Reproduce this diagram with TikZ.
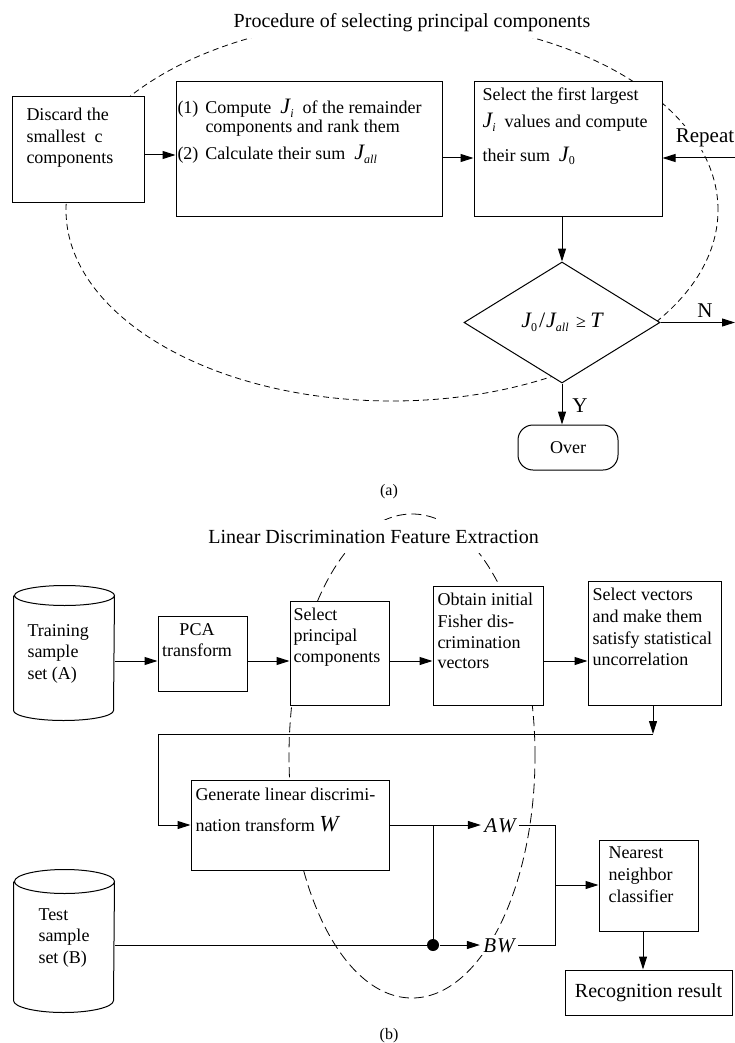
\documentclass[tikz,border=0pt]{standalone}
\usepackage{fontspec}
\setmainfont{Liberation Serif}
\usetikzlibrary{arrows.meta,shapes.geometric}
\newcommand\bigJ{{\fontsize{22}{22}\selectfont\itshape J}}
\newcommand\Jsub[1]{\bigJ\raisebox{-4pt}{\fontsize{12}{12}\selectfont #1}}
\begin{document}
\begin{tikzpicture}[x=1pt,y=-1pt,line width=1pt,
  font=\fontsize{18}{21.5}\selectfont,
  box/.style={draw,fill=white,inner sep=0pt},
  lt/.style={anchor=base west,inner sep=0pt},
  ct/.style={anchor=base,inner sep=0pt},
  arr/.style={-{Triangle[length=13pt,width=8pt]}},
  dasha/.style={dash pattern=on 6pt off 4pt,line width=0.8pt},
  dashb/.style={dash pattern=on 10pt off 5pt,line width=0.8pt},
  ttl/.style={anchor=base,fill=white,inner xsep=2pt,font=\fontsize{20}{24}\selectfont},
  lbl/.style={anchor=base,fill=white,inner sep=3pt,font=\fontsize{21}{24}\selectfont},
  subcap/.style={anchor=base,inner sep=0pt,font=\fontsize{16}{19}\selectfont},
  cyl/.style={inner sep=0pt,minimum width=100pt}
]
\useasboundingbox (0,0) rectangle (735,1043);

% ---------------- (a) ----------------
\draw[dasha] (392,210) ellipse [x radius=326pt, y radius=191pt];
\node[ttl,inner ysep=5.7pt] (ta) at (412,27.5) {Procedure of selecting principal components};

\node[box,minimum width=132pt,minimum height=105pt] (b1) at (78,149.5) {};
\node[lt] (b1a) at (26,121) {Discard the};
\node[lt] (b1b) at (26,143) {smallest~~c};
\node[lt] (b1c) at (26,164) {components};

\node[box,minimum width=266pt,minimum height=134pt] (b2) at (309,149) {};
\node[lt] (b2a) at (177,114) {(1)\hspace{7pt}Compute~ \Jsub{\itshape i}~ of the remainder};
\node[lt] (b2b) at (205,133) {components and rank them};
\node[lt] (b2c) at (177,160) {(2)\hspace{7pt}Calculate their sum~ \Jsub{\itshape all}};

\node[box,minimum width=188pt,minimum height=134pt] (b3) at (568,149) {};
\node[lt] (b3a) at (482,101) {Select the first largest};
\node[lt] (b3b) at (482,128) {\Jsub{\itshape i}~ values and compute};
\node[lt] (b3c) at (482,161) {their sum~ \Jsub{0}};

\node[diamond,draw,fill=white,inner sep=0pt,aspect=1.62,minimum width=196pt,minimum height=121pt] (dia) at (562,322.5)
  {\Jsub{0}\kern2pt{\fontsize{22}{22}\selectfont /}\kern1pt\Jsub{\itshape all}\ \,≥\ {\fontsize{22}{22}\selectfont\itshape T}};

\node[draw,fill=white,rounded corners=15pt,minimum width=100pt,minimum height=45pt,inner sep=0pt] (over) at (568,447.5) {Over};

\node[lbl] (rep) at (705,142.7) {Repeat};
\node[lbl] (nlab) at (705,317) {N};
\node[lbl] (ylab) at (580,412) {Y};
\coordinate (repR) at (735,158);
\coordinate (nR) at (735,322.5);

\draw[arr] (b1.east |- 0,155) -- (b2.west |- 0,155);
\draw[arr] (b2.east |- 0,158) -- (b3.west |- 0,158);
\draw[arr] (repR) -- (b3.east |- repR);
\draw[arr] (b3.south -| dia.north) -- (dia.north);
\draw[arr] (dia.east) -- (nR);
\draw[arr] (dia.south) -- (dia.south |- over.north);

\node[subcap] (capa) at (389,495) {(a)};

% ---------------- (b) ----------------
\draw[dashb] (412,756) ellipse [x radius=123pt, y radius=242pt];
\node[ttl,inner ysep=10pt] (tb) at (373.5,543) {Linear Discrimination Feature Extraction};

% training cylinder
\node[cyl,minimum height=114pt] (cylA) at (64,653) {};
\draw[fill=white] (cylA.north west) -- (cylA.south west)
  arc[start angle=180,end angle=360,x radius=50pt,y radius=10pt] -- (cylA.north east)
  arc[start angle=0,end angle=180,x radius=50pt,y radius=10pt]
  arc[start angle=180,end angle=360,x radius=50pt,y radius=10pt];
\node[lt] (cAa) at (27,636) {Training};
\node[lt] (cAb) at (27,657) {sample};
\node[lt] (cAc) at (27,679) {set (A)};

\node[box,minimum width=89pt,minimum height=75pt] (pca) at (202.5,653.5) {};
\node[ct] (pcaa) at (197,635) {PCA};
\node[ct] (pcab) at (197,656) {transform};

\node[box,minimum width=99pt,minimum height=104pt] (selpc) at (339.5,653) {};
\node[lt] (spa) at (293,620) {Select};
\node[lt] (spb) at (293,641) {principal};
\node[lt] (spc) at (293,662) {components};

\node[box,minimum width=110pt,minimum height=119pt] (obt) at (488,645.5) {};
\node[lt] (oba) at (437,605) {Obtain initial};
\node[lt] (obb) at (437,627) {Fisher dis-};
\node[lt] (obc) at (437,648) {crimination};
\node[lt] (obd) at (437,668) {vectors};

\node[box,minimum width=133pt,minimum height=124pt] (selv) at (654.5,643) {};
\node[lt] (sva) at (592,600) {Select vectors};
\node[lt] (svb) at (592,622) {and make them};
\node[lt] (svc) at (592,644) {satisfy statistical};
\node[lt] (svd) at (592,665) {uncorrelation};

\node[box,minimum width=198pt,minimum height=90pt] (gen) at (290,825) {};
\node[lt] (gna) at (195,800) {Generate linear discrimi-};
\node[lt] (gnb) at (195,831) {nation transform~{\fontsize{23}{23}\selectfont\itshape W}};

% test cylinder
\node[cyl,minimum height=118pt] (cylB) at (64,941) {};
\draw[fill=white] (cylB.north west) -- (cylB.south west)
  arc[start angle=180,end angle=360,x radius=50pt,y radius=12pt] -- (cylB.north east)
  arc[start angle=0,end angle=180,x radius=50pt,y radius=12pt]
  arc[start angle=180,end angle=360,x radius=50pt,y radius=12pt];
\node[lt] (cBa) at (38,920) {Test};
\node[lt] (cBb) at (38,941) {sample};
\node[lt] (cBc) at (38,963) {set (B)};

\node[box,minimum width=99pt,minimum height=91pt] (nn) at (648.5,885.5) {};
\node[lt] (nna) at (608,858) {Nearest};
\node[lt] (nnb) at (608,880) {neighbor};
\node[lt] (nnc) at (608,902) {classifier};

\node[box,minimum width=167pt,minimum height=45pt,font=\fontsize{20}{24}\selectfont] (rec) at (648.5,992.5) {Recognition result};

\node[lbl] (aw) at (500,832) {\itshape A\kern1pt W};
\node[lbl] (bw) at (499,952) {\itshape B\kern1pt W};

\coordinate (fb) at (653,734);
\coordinate (fbl) at (158,734);
\coordinate (jn) at (433,825);
\coordinate (m1) at (555,825);
\coordinate (m2) at (555,945);
\coordinate (m3) at (555,885);
\node[circle,fill=black,inner sep=0pt,minimum size=12pt] (dot) at (433,945) {};

\draw[arr] (cylA.east |- 0,661) -- (pca.west |- 0,661);
\draw[arr] (pca.east |- 0,661) -- (selpc.west |- 0,661);
\draw[arr] (selpc.east |- 0,661) -- (obt.west |- 0,661);
\draw[arr] (obt.east |- 0,661) -- (selv.west |- 0,661);
\draw[arr] (selv.south -| fb) -- (fb);
\draw[arr] (fb) -- (fbl) -- (fbl |- gen.west) -- (gen.west);
\draw[arr] (gen.east) -- (aw.west |- gen.east);
\draw (jn) -- (dot);
\draw (cylB.east |- dot) -- (dot);
\draw[arr] (dot) -- (bw.west |- dot);
\draw (aw.east |- m1) -- (m1) -- (m2) -- (bw.east |- m2);
\draw[arr] (m3) -- (nn.west |- m3);
\draw[arr] (nn.south -| 643,0) -- (rec.north -| 643,0);

\node[subcap] (capb) at (389,1039) {(b)};
\end{tikzpicture}
\end{document}
